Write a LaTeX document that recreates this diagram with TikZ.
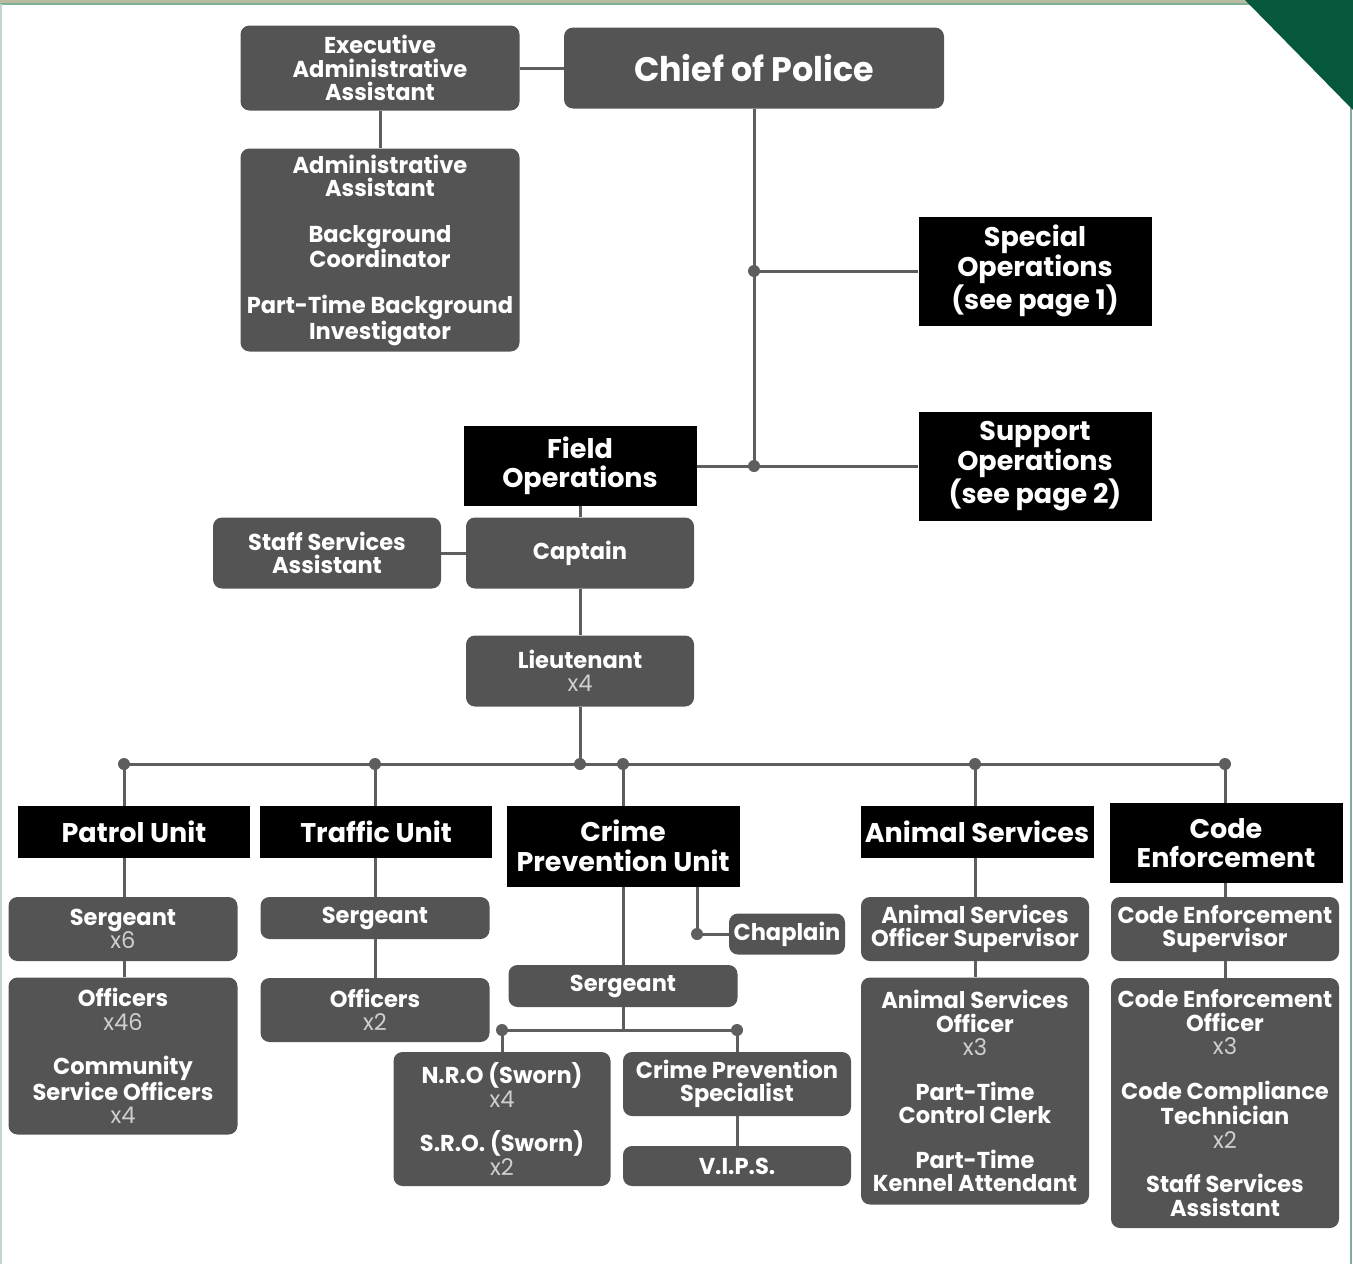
\documentclass[tikz,border=0pt]{standalone}
\usepackage{fontspec}
\setmainfont{Poppins}
\newfontfamily\narrowfont[FakeStretch=0.98]{Poppins}
\usetikzlibrary{positioning}
\definecolor{boxgrey}{HTML}{545454}
\definecolor{linegrey}{HTML}{5E5E5E}
\definecolor{countgrey}{HTML}{CFCFCF}
\definecolor{pagegreen}{HTML}{05583C}
\definecolor{edgegreen}{HTML}{7FAE95}
\definecolor{edgetan}{HTML}{B9BBA0}
\pgfdeclarelayer{background}
\pgfsetlayers{background,main}
\newcommand{\cnt}[1]{{\mdseries\color{countgrey}#1}}

\tikzset{
  greybox/.style={fill=boxgrey, rounded corners=9pt, text=white, align=center, inner sep=0pt,
    font=\narrowfont\bfseries\fontsize{23}{23.5}\selectfont},
  unitbox/.style={fill=black, text=white, align=center, inner sep=0pt,
    font=\bfseries\fontsize{27}{29.5}\selectfont},
  link/.style={draw=linegrey, line width=3pt},
}

\begin{document}
\begin{tikzpicture}[x=1pt,y=-1pt]
\useasboundingbox (0,0) rectangle (1353,1264);
% page frame
\fill[edgetan] (0,0) rectangle (1250,3);
\draw[edgegreen,line width=2pt] (0,4) -- (1250,4);
\draw[edgegreen!50,line width=1.5pt] (1,4) -- (1,1264);
\draw[edgegreen,line width=2pt] (1351,100) -- (1351,1264);
\fill[pagegreen] (1245,0) -- (1353,0) -- (1353,110) -- cycle;

% top
\node[greybox, minimum width=279, minimum height=85] (execasst) at (380,68) {Executive\\Administrative\\Assistant};
\node[greybox, minimum width=380, minimum height=81, font=\narrowfont\bfseries\fontsize{34}{36}\selectfont] (chief) at (754,68) {Chief of Police};
\node[greybox, minimum width=279, minimum height=203] (admin) at (380,250) {Administrative\\Assistant\\[22pt]Background\\Coordinator\\[22pt]Part-Time Background\\Investigator};
\node[unitbox, minimum width=233, minimum height=109] (special) at (1035,271) {Special\\Operations\\(see page 1)};
\node[unitbox, minimum width=233, minimum height=109] (support) at (1035,466) {Support\\Operations\\(see page 2)};

% field operations
\node[unitbox, minimum width=233, minimum height=80] (fieldops) at (580,466) {Field\\Operations};
\node[greybox, minimum width=228, minimum height=71] (staffsvc) at (327,553) {Staff Services\\Assistant};
\node[greybox, minimum width=228, minimum height=71] (captain) at (580,553) {Captain};
\node[greybox, minimum width=228, minimum height=71] (lieut) at (580,671) {Lieutenant\\\cnt{x4}};

% units
\node[unitbox, minimum width=232, minimum height=52] (patrol) at (134,832) {Patrol Unit};
\node[unitbox, minimum width=232, minimum height=52] (traffic) at (376,832) {Traffic Unit};
\node[unitbox, minimum width=233, minimum height=81] (cpu) at (623,846) {Crime\\Prevention Unit};
\node[unitbox, minimum width=233, minimum height=52] (animal) at (977,832) {Animal Services};
\node[unitbox, minimum width=233, minimum height=80] (code) at (1226,843) {Code\\Enforcement};

% patrol and traffic
\node[greybox, minimum width=229, minimum height=64] (psgt) at (123,929) {Sergeant\\\cnt{x6}};
\node[greybox, minimum width=229, minimum height=157] (pofc) at (123,1056) {Officers\\\cnt{x46}\\[21pt]Community\\Service Officers\\\cnt{x4}};
\node[greybox, minimum width=229, minimum height=42] (tsgt) at (375,918) {Sergeant};
\node[greybox, minimum width=229, minimum height=64] (tofc) at (375,1010) {Officers\\\cnt{x2}};

% crime prevention
\node[greybox, minimum width=116, minimum height=41] (chaplain) at (787,934) {Chaplain};
\node[greybox, minimum width=229, minimum height=42] (csgt) at (623,986) {Sergeant};
\node[greybox, minimum width=217, minimum height=134] (nro) at (502,1119) {N.R.O (Sworn)\\\cnt{x4}\\[21pt]S.R.O. (Sworn)\\\cnt{x2}};
\node[greybox, minimum width=228, minimum height=64] (cps) at (737,1084) {Crime Prevention\\Specialist};
\node[greybox, minimum width=228, minimum height=40] (vips) at (737,1166) {V.I.P.S.};

% animal services and code enforcement
\node[greybox, minimum width=228, minimum height=64] (assup) at (975,929) {Animal Services\\Officer Supervisor};
\node[greybox, minimum width=228, minimum height=227] (asofc) at (975,1091) {Animal Services\\Officer\\\cnt{x3}\\[21pt]Part-Time\\Control Clerk\\[21pt]Part-Time\\Kennel Attendant};
\node[greybox, minimum width=228, minimum height=64] (cesup) at (1225,929) {Code Enforcement\\Supervisor};
\node[greybox, minimum width=228, minimum height=250] (ceofc) at (1225,1103) {Code Enforcement\\Officer\\\cnt{x3}\\[21pt]Code Compliance\\Technician\\\cnt{x2}\\[21pt]Staff Services\\Assistant};

% joints
\coordinate (jspec) at (chief.south |- special.west);
\coordinate (jsupp) at (chief.south |- support.west);
\coordinate (jlt) at (lieut.south |- 0,764);
\coordinate (jpatrol) at (124,764);
\coordinate (jtraffic) at (375,764);
\coordinate (jcpu) at (623,764);
\coordinate (janimal) at (975,764);
\coordinate (jcode) at (1225,764);
\coordinate (jchap) at (697,934);
\coordinate (jnro) at (502,1030);
\coordinate (jcps) at (737,1030);

\begin{pgfonlayer}{background}
\draw[link] (execasst) -- (chief);
\draw[link] (execasst) -- (admin);
\draw[link] (chief) -- (jsupp);
\draw[link] (jspec) -- (special);
\draw[link] (fieldops) -- (support);
\draw[link] (fieldops) -- (captain);
\draw[link] (staffsvc) -- (captain);
\draw[link] (captain) -- (lieut);
\draw[link] (lieut) -- (jlt);
\draw[link] (jpatrol) -- (jcode);
\draw[link] (jpatrol) -- (jpatrol |- pofc.north);
\draw[link] (jtraffic) -- (jtraffic |- tofc.north);
\draw[link] (jcpu) -- (jcpu |- csgt.north);
\draw[link] (jchap |- cpu.south) -- (jchap) -- (chaplain);
\draw[link] (csgt) -- (csgt.south |- jnro);
\draw[link] (nro.north) -- (jnro) -- (jcps) -- (cps.north);
\draw[link] (cps) -- (vips);
\draw[link] (janimal) -- (janimal |- asofc.north);
\draw[link] (jcode) -- (jcode |- ceofc.north);
\end{pgfonlayer}
\foreach \j in {jspec,jsupp,jlt,jpatrol,jtraffic,jcpu,janimal,jcode,jchap,jnro,jcps}
  \fill[linegrey] (\j) circle (6);
\end{tikzpicture}
\end{document}
